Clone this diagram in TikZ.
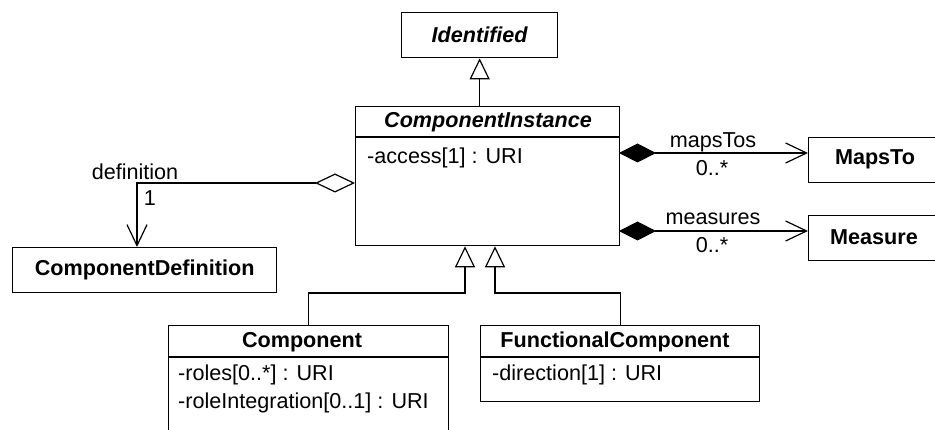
\documentclass[tikz,border=0pt]{standalone}
\usepackage{fontspec}
\setmainfont{Liberation Sans}
\usetikzlibrary{arrows.meta}

\tikzset{
	umlfont/.style={font=\fontsize{21.6}{26}\selectfont},
	classbox/.style={draw, line width=1.3pt, anchor=north west, inner sep=0pt},
	classname/.style={umlfont, font=\fontsize{21.6}{26}\selectfont\bfseries, inner sep=0pt},
	attr/.style={umlfont, anchor=west, inner sep=0pt},
	rolename/.style={umlfont, inner sep=0pt},
	inherit/.style={line width=1.2pt, -{Triangle[open, length=21pt, width=20pt]}},
	aggregate/.style={line width=1.2pt, {Diamond[open, length=40pt, width=19pt]}-{Straight Barb[length=21pt, width=20pt]}},
	compose/.style={line width=1.2pt, {Diamond[length=37pt, width=19pt]}-{Straight Barb[length=21pt, width=20pt]}},
}

\begin{document}
\begin{tikzpicture}[x=1pt, y=-1pt]
	\clip (0,0) rectangle (935,430);
	% class boxes
	\node[classbox, minimum width=156pt, minimum height=45pt]  (id)   at (401, 12)  {};
	\node[classbox, minimum width=264pt, minimum height=139pt] (ci)   at (355, 106) {};
	\node[classbox, minimum width=264pt, minimum height=45pt]  (cd)   at (12,  247) {};
	\node[classbox, minimum width=136pt, minimum height=45pt]  (mt)   at (808, 137) {};
	\node[classbox, minimum width=136pt, minimum height=45pt]  (ms)   at (808, 215) {};
	\node[classbox, minimum width=280pt, minimum height=130pt] (comp) at (168, 325) {};
	\node[classbox, minimum width=279pt, minimum height=76pt]  (fc)   at (480, 325) {};
	% names and compartments
	\node[classname, font=\fontsize{21.6}{26}\selectfont\bfseries\itshape] (idname) at (id) {Identified};
	\node[classname, font=\fontsize{21.6}{26}\selectfont\bfseries\itshape] (ciname) at (488, 122) {ComponentInstance};
	\draw[line width=1.3pt] (355, 137) -- (619, 137);
	\node[attr] (ciaccess) at (367, 158) {-access[1] : URI};
	\node[classname] (cdname) at (cd) {ComponentDefinition};
	\node[classname] (mtname) at (875, 159.5) {MapsTo};
	\node[classname] (msname) at (874, 237.5) {Measure};
	\node[classname] (compname) at (302, 342) {Component};
	\draw[line width=1.3pt] (168, 357) -- (448, 357);
	\node[attr] (comproles) at (178, 375) {-roles[0..*] : URI};
	\node[attr] (compinteg) at (178, 403) {-roleIntegration[0..1] : URI};
	\node[classname] (fcname) at (615, 342) {FunctionalComponent};
	\draw[line width=1.3pt] (480, 357) -- (759, 357);
	\node[attr] (fcdir) at (492, 375) {-direction[1] : URI};
	% generalisations
	\coordinate (compjoin) at (465, 293);
	\coordinate (fcjoin)   at (495, 293);
	\draw[inherit] (id.south |- ci.north) -- (id.south);
	\draw[inherit] (comp.north) |- (compjoin) -- (compjoin |- ci.south);
	\draw[inherit] (fc.north)   |- (fcjoin)   -- (fcjoin |- ci.south);
	% associations
	\coordinate (defbend) at (137, 183);
	\coordinate (mtline)  at (619, 153);
	\coordinate (msline)  at (619, 231);
	\draw[aggregate] (ci.west |- defbend) -- (defbend) -- (defbend |- cd.north);
	\draw[compose] (mtline) -- (mtline -| mt.west);
	\draw[compose] (msline) -- (msline -| ms.west);
	% role names
	\node[rolename] (defrole) at (135, 172) {definition};
	\node[rolename] (defmult) at (150, 198) {1};
	\node[rolename] (mtrole)  at (713, 142) {mapsTos};
	\node[rolename] (mtmult)  at (712, 168) {0..*};
	\node[rolename] (msrole)  at (713, 219) {measures};
	\node[rolename] (msmult)  at (712, 245) {0..*};
\end{tikzpicture}
\end{document}
